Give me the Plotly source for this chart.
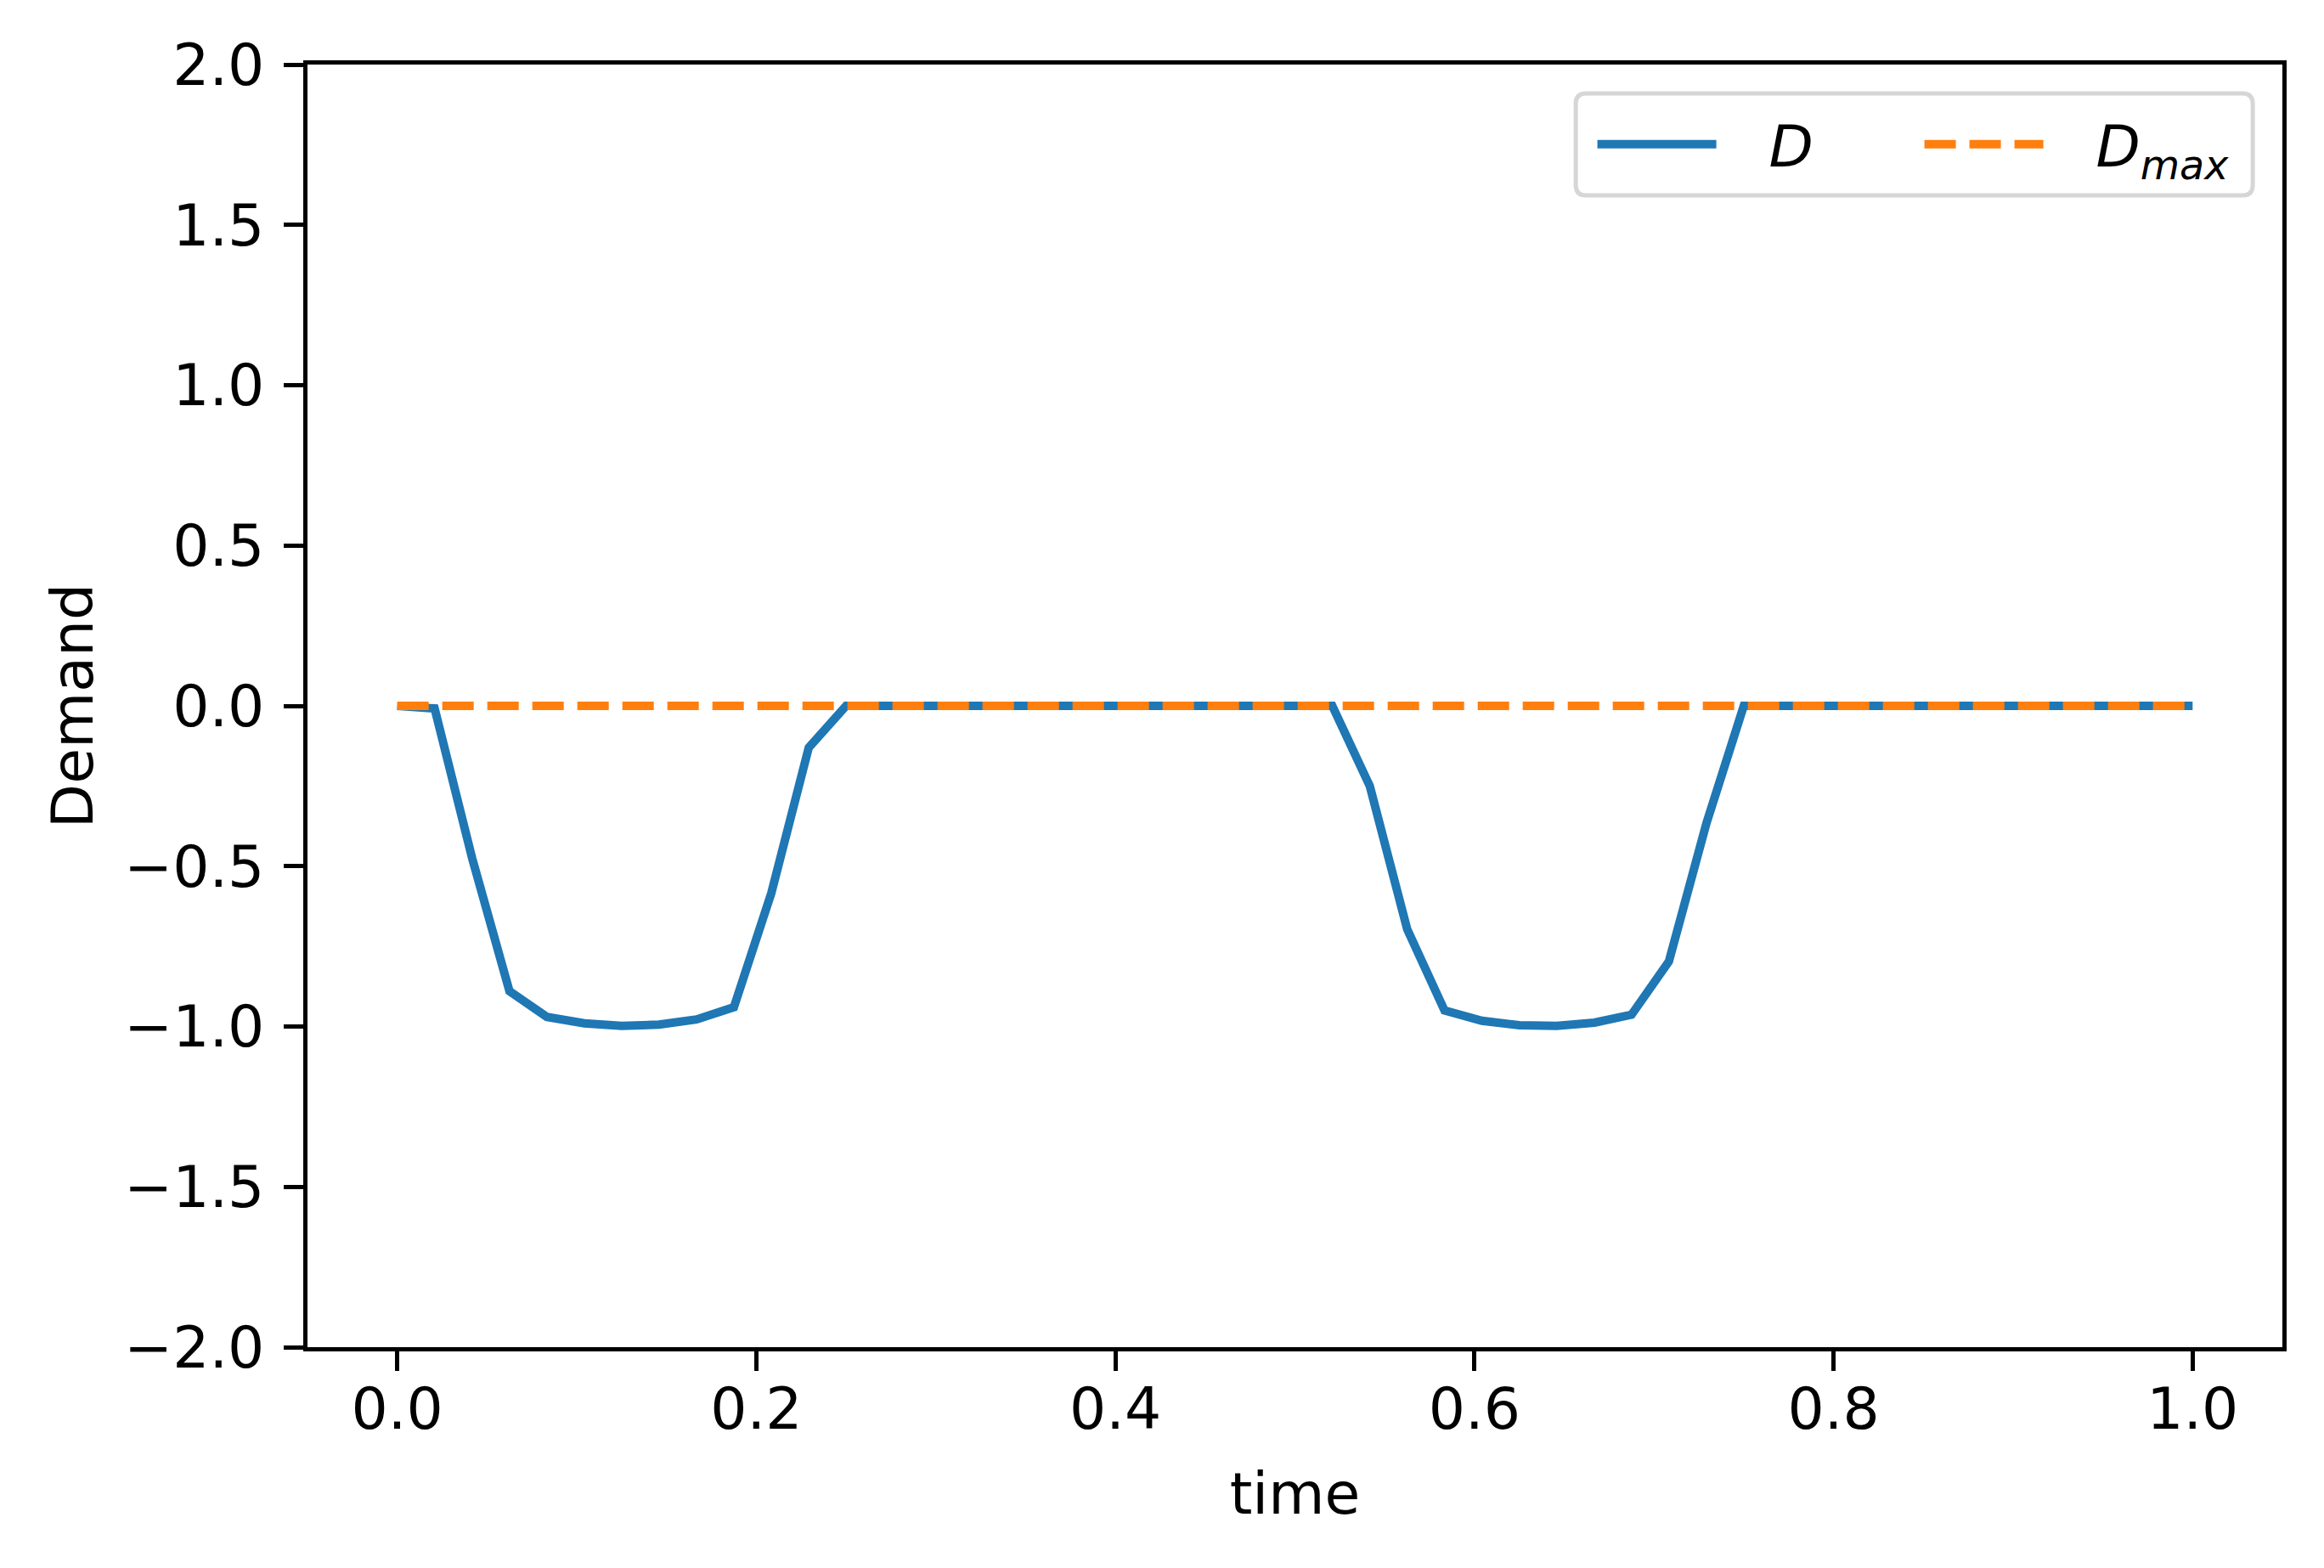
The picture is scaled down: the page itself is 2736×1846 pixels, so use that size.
import plotly.graph_objects as go

# ---- data ----
time = [0.0, 0.0208, 0.0417, 0.0625, 0.0833, 0.1042, 0.125, 0.1458, 0.1667, 0.1875,
        0.2083, 0.2292, 0.25, 0.2708, 0.2917, 0.3125, 0.3333, 0.3542, 0.375, 0.3958,
        0.4167, 0.4375, 0.4583, 0.4792, 0.5, 0.5208, 0.5417, 0.5625, 0.5833, 0.6042,
        0.625, 0.6458, 0.6667, 0.6875, 0.7083, 0.7292, 0.75, 0.7708, 0.7917, 0.8125,
        0.8333, 0.8542, 0.875, 0.8958, 0.9167, 0.9375, 0.9583, 0.9792, 1.0]

demand = [0.0, -0.008, -0.475, -0.89, -0.97, -0.99, -0.998, -0.994, -0.978, -0.94,
          -0.585, -0.13, 0.0, 0.0, 0.0, 0.0, 0.0, 0.0, 0.0, 0.0,
          0.0, 0.0, 0.0, 0.0, 0.0, 0.0, -0.25, -0.696, -0.95, -0.982,
          -0.996, -0.998, -0.988, -0.963, -0.797, -0.366, 0.0, 0.0, 0.0, 0.0,
          0.0, 0.0, 0.0, 0.0, 0.0, 0.0, 0.0, 0.0, 0.0]

demand_max = [0.0, 0.0, 0.0, 0.0, 0.0, 0.0, 0.0, 0.0, 0.0, 0.0,
              0.0, 0.0, 0.0, 0.0, 0.0, 0.0, 0.0, 0.0, 0.0, 0.0,
              0.0, 0.0, 0.0, 0.0, 0.0, 0.0, 0.0, 0.0, 0.0, 0.0,
              0.0, 0.0, 0.0, 0.0, 0.0, 0.0, 0.0, 0.0, 0.0, 0.0,
              0.0, 0.0, 0.0, 0.0, 0.0, 0.0, 0.0, 0.0, 0.0]

x_ticks = [0.0, 0.2, 0.4, 0.6, 0.8, 1.0]
x_ticklabels = ["0.0", "0.2", "0.4", "0.6", "0.8", "1.0"]
y_ticks = [-2.0, -1.5, -1.0, -0.5, 0.0, 0.5, 1.0, 1.5, 2.0]
y_ticklabels = ["\u22122.0", "\u22121.5", "\u22121.0", "\u22120.5", "0.0", "0.5", "1.0", "1.5", "2.0"]

BLUE = "#1f77b4"
ORANGE = "#ff7f0e"
FONT = "DejaVu Sans"
FS = 68
GAP = "\u00a0\u00a0\u2009"

fig = go.Figure()
fig.add_trace(go.Scatter(x=time, y=demand, mode="lines", name=GAP + "<i>D</i>",
                         line=dict(color=BLUE, width=10)))
fig.add_trace(go.Scatter(x=time, y=demand_max, mode="lines",
                         name=GAP + "<i>D</i><sub><i>max</i></sub>",
                         line=dict(color=ORANGE, width=10, dash="37px,16px")))

axis_common = dict(
    showgrid=False, zeroline=False, showline=True, linecolor="black", linewidth=5,
    mirror=True, ticks="outside", ticklen=23, tickwidth=5, tickcolor="black",
    tickfont=dict(family=FONT, size=FS, color="black"),
)

# legend frame (rounded box) in paper coordinates
L_X0, L_X1, L_Y0, L_Y1 = 0.6422, 0.985, 0.898, 0.9775
RX, RY = 0.0052, 0.008
frame_path = (
    f"M{L_X0+RX},{L_Y0} L{L_X1-RX},{L_Y0} Q{L_X1},{L_Y0} {L_X1},{L_Y0+RY} "
    f"L{L_X1},{L_Y1-RY} Q{L_X1},{L_Y1} {L_X1-RX},{L_Y1} "
    f"L{L_X0+RX},{L_Y1} Q{L_X0},{L_Y1} {L_X0},{L_Y1-RY} "
    f"L{L_X0},{L_Y0+RY} Q{L_X0},{L_Y0} {L_X0+RX},{L_Y0} Z"
)

fig.update_layout(
    width=2736, height=1846,
    margin=dict(l=362, r=49, t=76, b=260),
    paper_bgcolor="white", plot_bgcolor="white",
    font=dict(family=FONT, size=FS, color="black"),
    xaxis=dict(range=[-0.05, 1.05], tickvals=x_ticks, ticktext=x_ticklabels,
               title=dict(text="time", font=dict(family=FONT, size=FS), standoff=39),
               ticklabelstandoff=-14, **axis_common),
    yaxis=dict(range=[-2.0, 2.0], tickvals=y_ticks, ticktext=y_ticklabels,
               title=dict(text="Demand", font=dict(family=FONT, size=FS), standoff=16),
               ticklabelstandoff=9, **axis_common),
    shapes=[dict(type="path", xref="paper", yref="paper", path=frame_path,
                 line=dict(color="#d6d6d6", width=5),
                 fillcolor="rgba(255,255,255,0.8)", layer="above")],
    legend=dict(orientation="h", x=0.651, xanchor="left",
                y=(L_Y0 + L_Y1) / 2, yanchor="middle",
                borderwidth=0, bgcolor="rgba(0,0,0,0)",
                font=dict(family=FONT, size=FS, color="black"),
                itemwidth=140, entrywidth=230),
    showlegend=True,
)

fig.write_html("out.html", config={"displayModeBar": False},
               post_script="document.body.style.margin='0';")
